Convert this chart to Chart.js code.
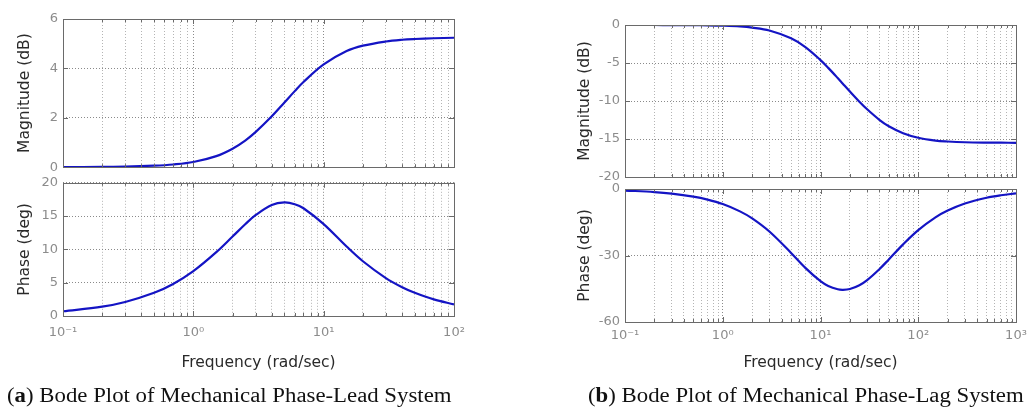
<!DOCTYPE html>
<html lang="en">

<head>
  <meta charset="UTF-8">
  <title>Bode Plots</title>
  <script src="https://cdn.jsdelivr.net/npm/chart.js"></script>
  <style>
    body {
      margin: 0;
      background: #fff;
      width: 1029px;
      height: 419px;
      position: relative;
      overflow: hidden;
    }

    .box {
      position: absolute;
    }

    .caption {
      position: absolute;
      top: 385px;
      font-family: "Liberation Serif", "Times New Roman", serif;
      font-size: 20px;
      line-height: 20px;
      color: #111;
      white-space: nowrap;
      transform: scaleX(1.14);
      transform-origin: left top;
    }
  </style>
</head>

<body>
  <div class="box" style="left:0px;top:0px"><canvas id="leadMag" width="470" height="180"></canvas></div>
  <div class="box" style="left:0px;top:170px"><canvas id="leadPhase" width="470" height="210"></canvas></div>
  <div class="box" style="left:560px;top:0px"><canvas id="lagMag" width="469" height="190"></canvas></div>
  <div class="box" style="left:560px;top:170px"><canvas id="lagPhase" width="469" height="210"></canvas></div>

  <div class="caption" style="left:7px">(<b>a</b>) Bode Plot of Mechanical Phase-Lead System</div>
  <div class="caption" style="left:588px">(<b>b</b>) Bode Plot of Mechanical Phase-Lag System</div>

  <script>
    // phase-lead system (a)
    var leadFreq = [0.1, 0.2, 0.3, 0.5, 0.7, 1, 1.5, 2, 2.5, 3, 4, 5, 6, 7, 10, 15, 20, 30, 40, 50, 70, 100];
    var leadMag = [0.00, 0.01, 0.02, 0.06, 0.11, 0.21, 0.45, 0.75, 1.08, 1.42, 2.06, 2.62, 3.08, 3.45, 4.16, 4.70, 4.92, 5.09, 5.16, 5.19, 5.22, 5.24];
    var leadPhase = [0.71, 1.40, 2.10, 3.48, 4.81, 6.73, 9.58, 11.93, 13.77, 15.14, 16.67, 17.05, 16.79, 16.18, 13.80, 10.43, 8.22, 5.69, 4.32, 3.48, 2.49, 1.75];

    // phase-lag system (b)
    var lagFreq = [0.1, 0.2, 0.3, 0.5, 0.7, 1, 1.5, 2, 3, 5, 7, 10, 12, 15, 17, 20, 25, 30, 40, 50, 70, 100, 150, 200, 300, 500, 700, 1000];
    var lagMag = [0.00, 0.00, -0.01, -0.02, -0.04, -0.09, -0.19, -0.34, -0.72, -1.75, -2.91, -4.62, -5.64, -6.98, -7.76, -8.76, -10.09, -11.09, -12.47, -13.32, -14.24, -14.84, -15.21, -15.33, -15.43, -15.48, -15.49, -15.50];
    var lagPhase = [-0.69, -1.37, -2.05, -3.42, -4.78, -6.80, -10.09, -13.27, -19.19, -28.83, -35.59, -41.61, -43.76, -45.24, -45.47, -45.09, -43.38, -41.08, -36.18, -31.78, -24.98, -18.56, -12.81, -9.73, -6.55, -3.95, -2.82, -1.98];

    // axis ticks
    var leadDecades = [0.1, 1, 10, 100];
    var leadDecadeLabels = ['10⁻¹', '10⁰', '10¹', '10²'];
    var lagDecades = [0.1, 1, 10, 100, 1000];
    var lagDecadeLabels = ['10⁻¹', '10⁰', '10¹', '10²', '10³'];

    var lineColor = '#1414c4';
    var tickColor = '#8c8c8c';
    var titleColor = '#2a2a2a';
    var sansFont = '"DejaVu Sans", "Noto Sans", sans-serif';

    // minor ticks 1..9 inside every decade
    function logTicks(decades) {
      var out = [];
      decades.forEach(function (d, i) {
        if (i == decades.length - 1) {
          out.push(d);
          return;
        }
        for (var k = 1; k <= 9; k++) out.push(+(d * k).toPrecision(3));
      });
      return out;
    }

    // box around plot + inward tick marks like matlab
    var framePlugin = {
      id: 'frame',
      afterDraw: function (chart) {
        var ctx = chart.ctx;
        var a = chart.chartArea;
        var xs = chart.scales.x;
        var ys = chart.scales.y;
        var decades = chart.options.plugins.frame.decades;
        ctx.save();
        ctx.strokeStyle = '#6a6a6a';
        ctx.lineWidth = 1;
        ctx.beginPath();
        xs.ticks.forEach(function (t) {
          var px = Math.round(xs.getPixelForValue(t.value)) + 0.5;
          var len = decades.indexOf(t.value) >= 0 ? 5 : 3;
          ctx.moveTo(px, a.bottom);
          ctx.lineTo(px, a.bottom - len);
          ctx.moveTo(px, a.top);
          ctx.lineTo(px, a.top + len);
        });
        ys.ticks.forEach(function (t) {
          var py = Math.round(ys.getPixelForValue(t.value)) + 0.5;
          ctx.moveTo(a.left, py);
          ctx.lineTo(a.left + 5, py);
          ctx.moveTo(a.right, py);
          ctx.lineTo(a.right - 5, py);
        });
        ctx.stroke();
        ctx.strokeRect(Math.round(a.left) + 0.5, Math.round(a.top) + 0.5,
          Math.round(a.right - a.left), Math.round(a.bottom - a.top));
        ctx.restore();
      }
    };

    function makeBode(id, freq, values, decades, decadeLabels, yMin, yMax, yStep, yTitle, pad, yWidth, showX, xHeight, xPad) {
      var ticks = logTicks(decades);
      var points = freq.map(function (f, i) {
        return { x: f, y: values[i] };
      });

      new Chart(document.getElementById(id), {
        type: 'line',
        data: {
          datasets: [{
            data: points,
            borderColor: lineColor,
            borderWidth: 2.2,
            pointRadius: 0,
            tension: 0.35,
            fill: false
          }]
        },
        options: {
          responsive: false,
          animation: false,
          devicePixelRatio: 1,
          layout: { padding: pad },
          plugins: {
            legend: { display: false },
            tooltip: { enabled: false },
            frame: { decades: decades }
          },
          scales: {
            x: {
              type: 'logarithmic',
              min: decades[0],
              max: decades[decades.length - 1],
              afterBuildTicks: function (s) {
                s.ticks = ticks.map(function (v) { return { value: v }; });
              },
              afterFit: function (s) {
                s.height = xHeight;
                // labels may spill past the plot edges, don't shrink the plot for them
                s.paddingLeft = 0;
                s.paddingRight = 0;
              },
              border: { display: false, dash: [1, 2] },
              grid: {
                drawTicks: false,
                color: function (c) {
                  return decades.indexOf(c.tick && c.tick.value) >= 0 ? '#8a8a8a' : '#b4b4b4';
                }
              },
              ticks: {
                display: showX,
                autoSkip: false,
                maxRotation: 0,
                padding: xPad,
                color: tickColor,
                font: { family: sansFont, size: 13 },
                callback: function (v) {
                  var i = decades.indexOf(v);
                  return i >= 0 ? decadeLabels[i] : '';
                }
              },
              title: {
                display: showX,
                text: 'Frequency (rad/sec)',
                color: titleColor,
                font: { family: sansFont, size: 15.5 },
                padding: { top: 0, bottom: 8 }
              }
            },
            y: {
              min: yMin,
              max: yMax,
              afterFit: function (s) { s.width = yWidth; },
              border: { display: false, dash: [1, 2] },
              grid: {
                drawTicks: false,
                color: '#8a8a8a'
              },
              ticks: {
                stepSize: yStep,
                padding: 5,
                color: tickColor,
                font: { family: sansFont, size: 13 }
              },
              title: {
                display: true,
                text: yTitle,
                color: titleColor,
                font: { family: sansFont, size: 15.5 },
                padding: { top: 16, bottom: 0 }
              }
            }
          }
        },
        plugins: [framePlugin]
      });
    }

    makeBode('leadMag', leadFreq, leadMag, leadDecades, leadDecadeLabels, 0, 6, 2, 'Magnitude (dB)',
      { top: 19, right: 16, bottom: 10, left: 0 }, 63, false, 0, 0);
    makeBode('leadPhase', leadFreq, leadPhase, leadDecades, leadDecadeLabels, 0, 20, 5, 'Phase (deg)',
      { top: 12, right: 16, bottom: 0, left: 0 }, 63, true, 64, 9);
    makeBode('lagMag', lagFreq, lagMag, lagDecades, lagDecadeLabels, -20, 0, 5, 'Magnitude (dB)',
      { top: 25, right: 13, bottom: 13, left: 0 }, 65, false, 0, 0);
    makeBode('lagPhase', lagFreq, lagPhase, lagDecades, lagDecadeLabels, -60, 0, 30, 'Phase (deg)',
      { top: 19, right: 13, bottom: 0, left: 0 }, 65, true, 58, 6);
  </script>
</body>

</html>
